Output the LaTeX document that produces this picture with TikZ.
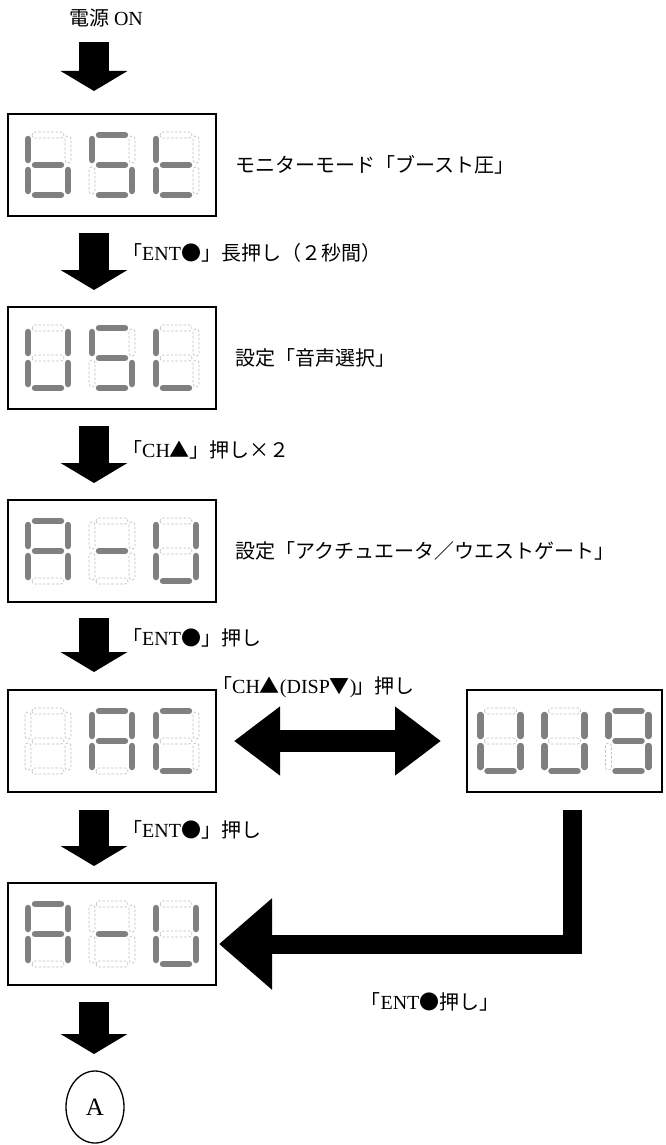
\documentclass[tikz,border=0pt]{standalone}
\usepackage{fontspec}
\setmainfont{Liberation Serif}
\newfontfamily\jp{Noto Sans CJK JP}
\usetikzlibrary{arrows.meta,shapes.geometric}
\definecolor{segon}{RGB}{128,128,128}
\definecolor{segoff}{RGB}{190,190,190}
\makeatletter
\newcommand\sevdig[3]{%
  \foreach \s/\ax/\ay/\bx/\by in {a/-13/-30/13/-30,b/20/-26/20/-5,c/20/5/20/26,d/-13/30/13/30,e/-20/5/-20/26,f/-20/-26/-20/-5,g/-13/0/13/0}{%
    \edef\sev@tmp{\noexpand\in@{\s}{#3}}\sev@tmp
    \ifin@
      \draw[litseg] ({#1+(\ax)},{#2+(\ay)}) -- ({#1+(\bx)},{#2+(\by)});
    \else
      \draw[offseg] ({#1+(\ax)-3},{#2+(\ay)-3}) rectangle ({#1+(\bx)+3},{#2+(\by)+3});
    \fi
  }%
}
\makeatother
\begin{document}
\begin{tikzpicture}[x=1pt,y=-1pt,
  every node/.style={font=\fontsize{20}{24}\selectfont, inner sep=0pt},
  dispbox/.style={draw, line width=1.8pt, minimum width=208pt, minimum height=102pt},
  litseg/.style={draw=segon, line width=6.5pt, line cap=round},
  offseg/.style={draw=segoff, line width=0.7pt, dash pattern=on 2.5pt off 1.8pt, rounded corners=2.9pt},
  blockarrow/.style={line width=30pt, -{Triangle[width=66pt,length=20pt]}},
  lbl/.style={anchor=west}]
\useasboundingbox (0,0) rectangle (666,1145);

% title
\node (on) at (106,18) {{\jp 電源} ON};

% display boxes
\node[dispbox] (b1) at (112,165) {};
\node[dispbox] (b2) at (112,358) {};
\node[dispbox] (b3) at (112,551) {};
\node[dispbox] (b4) at (112,741) {};
\node[dispbox, minimum width=195pt] (b4r) at (564.5,741) {};
\node[dispbox] (b5) at (112,934) {};

% digits
\sevdig{48}{165}{cdefg}\sevdig{112}{165}{acdfg}\sevdig{176}{165}{defg}
\sevdig{48}{358}{bcdef}\sevdig{112}{358}{acdfg}\sevdig{176}{358}{def}
\sevdig{48}{551}{abcefg}\sevdig{112}{551}{g}\sevdig{176}{551}{bcdef}
\sevdig{48}{741}{}\sevdig{112}{741}{abcefg}\sevdig{176}{741}{adef}
\sevdig{500.5}{741}{bcdef}\sevdig{564.5}{741}{bcdef}\sevdig{628.5}{741}{abcdfg}
\sevdig{48}{934}{abcefg}\sevdig{112}{934}{g}\sevdig{176}{934}{bcdef}

% side labels
\node[lbl] (t1) at (235,165) {\jp モニターモード「ブースト圧」};
\node[lbl] (t2) at (235,358) {\jp 設定「音声選択」};
\node[lbl] (t3) at (235,551) {\jp 設定「アクチュエータ／ウエストゲート」};

% arrow labels
\node[lbl] (l1) at (122,253) {{\jp 「}ENT{\jp ●」長押し（２秒間）}};
\node[lbl] (l2) at (122,450) {{\jp 「}CH{\jp ▲」押し×２}};
\node[lbl] (l3) at (122,638) {{\jp 「}ENT{\jp ●」押し}};
\node[lbl] (l4) at (212,687) {{\jp 「}CH{\jp ▲}(DISP{\jp ▼})\kern-2pt{\jp 」押し}};
\node[lbl] (l5) at (122,830) {{\jp 「}ENT{\jp ●」押し}};
\node (l6) at (430,1002) {{\jp 「}ENT{\jp ●押し」}};

% end circle
\node[draw, ellipse, line width=1.3pt, minimum width=58pt, minimum height=72pt, font=\fontsize{25}{30}\selectfont] (endA) at (95,1107) {A};

% down arrows
\coordinate (a0s) at (94,42);   \coordinate (a0e) at (94,91);
\coordinate (a1s) at (94,233);  \coordinate (a1e) at (94,290);
\coordinate (a2s) at (94,426);  \coordinate (a2e) at (94,483);
\coordinate (a3s) at (94,618);  \coordinate (a3e) at (94,672);
\coordinate (a4s) at (94,810);  \coordinate (a4e) at (94,866);
\coordinate (a5s) at (94,1002); \coordinate (a5e) at (94,1054);
\foreach \i in {0,...,5}{\draw[blockarrow] (a\i s) -- (a\i e);}

% double arrow
\coordinate (dl) at (234,741); \coordinate (dr) at (441,741);
\draw[line width=22pt, {Triangle[width=66pt,length=46pt]}-{Triangle[width=66pt,length=46pt]}] (dl) -- (dr);

% L arrow
\coordinate (ls) at (572,810); \coordinate (le) at (219,944);
\draw[line width=19pt, line join=miter, -{Triangle[width=88pt,length=53pt]}] (ls) |- (le);
\end{tikzpicture}
\end{document}
